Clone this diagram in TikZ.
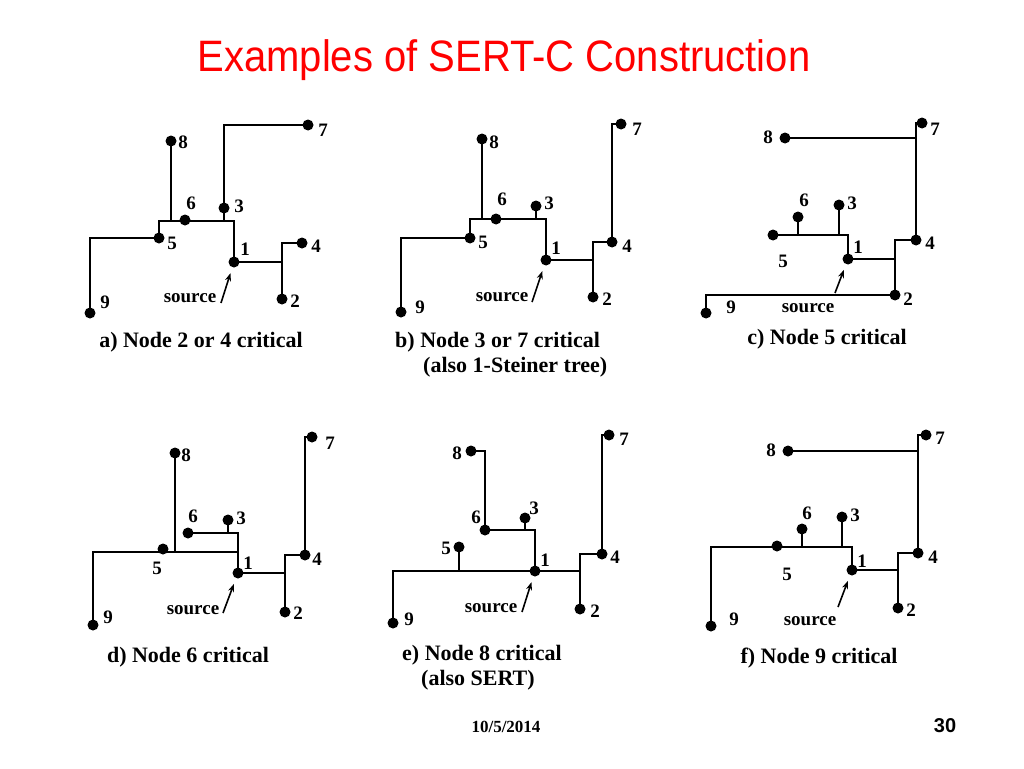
\documentclass[tikz,border=0pt]{standalone}
\usepackage{fontspec}
\usepackage{tikz}
\setmainfont{Liberation Serif}
\newfontfamily\titlefont{Liberation Sans}
\usetikzlibrary{arrows.meta}

\begin{document}
\begin{tikzpicture}[x=1pt,y=-1pt,
  dot/.style={circle,fill=black,inner sep=0pt,minimum size=11pt},
  num/.style={font=\fontsize{19}{19}\selectfont\bfseries,inner sep=0pt},
  wire/.style={line width=2.6pt,line cap=rect},
  src/.style={line width=1.6pt,-{Stealth[length=8pt,width=6pt]},shorten >=6pt},
  capt/.style={font=\fontsize{22}{25}\selectfont\bfseries,inner sep=0pt}]
\useasboundingbox[fill=white] (0,0) rectangle (1024,768);

\node[font=\titlefont\fontsize{40}{40}\selectfont,text=red,yscale=1.1] (title) at (504,60) {Examples of SERT-C Construction};

% a) node 2 or 4 critical
\node[dot] (a1) at (234,262) {};
\node[dot] (a2) at (282,299) {};
\node[dot] (a3) at (224,208) {};
\node[dot] (a4) at (302,243) {};
\node[dot] (a5) at (159,238) {};
\node[dot] (a6) at (185,220) {};
\node[dot] (a7) at (308,125) {};
\node[dot] (a8) at (171,141) {};
\node[dot] (a9) at (90,313) {};
\coordinate (a1t) at (234,221);
\coordinate (a3t) at (224,221);
\draw[wire] (a5) |- (a1t) -- (a1) -| (a2);
\draw[wire] (a4) -| (a2);
\draw[wire] (a7) -| (a3t);
\draw[wire] (a8) -- (a8 |- a1t);
\draw[wire] (a5) -| (a9);
\node[num] (a1n) at (245,249) {1};
\node[num] (a2n) at (295,301) {2};
\node[num] (a3n) at (239,206) {3};
\node[num] (a4n) at (316,246) {4};
\node[num] (a5n) at (172,243) {5};
\node[num] (a6n) at (191,203) {6};
\node[num] (a7n) at (323,130) {7};
\node[num] (a8n) at (183,142) {8};
\node[num] (a9n) at (105,302) {9};
\node[num] (asrc) at (190,298) {source};
\coordinate (atail) at (221,303);
\draw[src] (atail) -- (a1);
\node[capt] (acap) at (201,342) {a) Node 2 or 4 critical};

% b) node 3 or 7 critical
\node[dot] (b1) at (546,260) {};
\node[dot] (b2) at (593,297) {};
\node[dot] (b3) at (536,206) {};
\node[dot] (b4) at (612,242) {};
\node[dot] (b5) at (470,238) {};
\node[dot] (b6) at (496,219) {};
\node[dot] (b7) at (621,124) {};
\node[dot] (b8) at (482,139) {};
\node[dot] (b9) at (401,312) {};
\coordinate (b1t) at (546,219);
\draw[wire] (b5) |- (b1t) -- (b1) -| (b2);
\draw[wire] (b4) -| (b2);
\draw[wire] (b7) -| (b4);
\draw[wire] (b8) -- (b8 |- b1t);
\draw[wire] (b3) -- (b3 |- b1t);
\draw[wire] (b5) -| (b9);
\node[num] (b1n) at (556,248) {1};
\node[num] (b2n) at (607,299) {2};
\node[num] (b3n) at (549,203) {3};
\node[num] (b4n) at (627,246) {4};
\node[num] (b5n) at (483,242) {5};
\node[num] (b6n) at (502,199) {6};
\node[num] (b7n) at (637,129) {7};
\node[num] (b8n) at (494,142) {8};
\node[num] (b9n) at (420,307) {9};
\node[num] (bsrc) at (502,297) {source};
\coordinate (btail) at (532,302);
\draw[src] (btail) -- (b1);
\node[capt,align=left,anchor=north west] (bcap) at (395,332) {b) Node 3 or 7 critical\\\hspace*{28pt}(also 1-Steiner tree)};

% c) node 5 critical
\node[dot] (c1) at (848,259) {};
\node[dot] (c2) at (895,295) {};
\node[dot] (c3) at (839,205) {};
\node[dot] (c4) at (916,240) {};
\node[dot] (c5) at (773,235) {};
\node[dot] (c6) at (798,217) {};
\node[dot] (c7) at (922,123) {};
\node[dot] (c8) at (785,138) {};
\node[dot] (c9) at (706,313) {};
\draw[wire] (c5) -| (c1) -| (c2);
\draw[wire] (c4) -| (c2);
\draw[wire] (c7) -| (c4);
\draw[wire] (c8) -- (c8 -| c4);
\draw[wire] (c6) -- (c6 |- c5);
\draw[wire] (c3) -- (c3 |- c5);
\draw[wire] (c2) -| (c9);
\node[num] (c1n) at (858,247) {1};
\node[num] (c2n) at (908,299) {2};
\node[num] (c3n) at (852,203) {3};
\node[num] (c4n) at (930,243) {4};
\node[num] (c5n) at (783,261) {5};
\node[num] (c6n) at (804,200) {6};
\node[num] (c7n) at (935,129) {7};
\node[num] (c8n) at (768,137) {8};
\node[num] (c9n) at (731,307) {9};
\node[num] (csrc) at (808,308) {source};
\coordinate (ctail) at (835,293);
\draw[src] (ctail) -- (c1);
\node[capt] (ccap) at (827,339) {c) Node 5 critical};

% d) node 6 critical
\node[dot] (d1) at (238,573) {};
\node[dot] (d2) at (285,612) {};
\node[dot] (d3) at (228,520) {};
\node[dot] (d4) at (305,555) {};
\node[dot] (d5) at (163,549) {};
\node[dot] (d6) at (188,533) {};
\node[dot] (d7) at (312,437) {};
\node[dot] (d8) at (175,453) {};
\node[dot] (d9) at (93,625) {};
\coordinate (d1t) at (238,552);
\draw[wire] (d6) -| (d1) -| (d2);
\draw[wire] (d4) -| (d2);
\draw[wire] (d7) -| (d4);
\draw[wire] (d3) -- (d3 |- d6);
\draw[wire] (d8) -- (d8 |- d1t);
\draw[wire] (d9) |- (d1t);
\node[num] (d1n) at (248,563) {1};
\node[num] (d2n) at (298,613) {2};
\node[num] (d3n) at (241,518) {3};
\node[num] (d4n) at (317,559) {4};
\node[num] (d5n) at (157,568) {5};
\node[num] (d6n) at (193,516) {6};
\node[num] (d7n) at (330,443) {7};
\node[num] (d8n) at (186,455) {8};
\node[num] (d9n) at (108,617) {9};
\node[num] (dsrc) at (193,610) {source};
\coordinate (dtail) at (223,613);
\draw[src] (dtail) -- (d1);
\node[capt] (dcap) at (188,657) {d) Node 6 critical};

% e) node 8 critical
\node[dot] (e1) at (535,571) {};
\node[dot] (e2) at (580,609) {};
\node[dot] (e3) at (525,518) {};
\node[dot] (e4) at (602,554) {};
\node[dot] (e5) at (459,547) {};
\node[dot] (e6) at (485,530) {};
\node[dot] (e7) at (609,435) {};
\node[dot] (e8) at (471,451) {};
\node[dot] (e9) at (393,623) {};
\draw[wire] (e8) -| (e6);
\draw[wire] (e6) -| (e1) -| (e2);
\draw[wire] (e4) -| (e2);
\draw[wire] (e7) -| (e4);
\draw[wire] (e3) -- (e3 |- e6);
\draw[wire] (e5) -- (e5 |- e1);
\draw[wire] (e9) |- (e1);
\node[num] (e1n) at (545,560) {1};
\node[num] (e2n) at (595,611) {2};
\node[num] (e3n) at (534,508) {3};
\node[num] (e4n) at (615,557) {4};
\node[num] (e5n) at (446,548) {5};
\node[num] (e6n) at (476,517) {6};
\node[num] (e7n) at (624,439) {7};
\node[num] (e8n) at (457,453) {8};
\node[num] (e9n) at (409,619) {9};
\node[num] (esrc) at (491,608) {source};
\coordinate (etail) at (522,612);
\draw[src] (etail) -- (e1);
\node[capt,align=left,anchor=north west] (ecap) at (402,645) {e) Node 8 critical\\\hspace*{19pt}(also SERT)};

% f) node 9 critical
\node[dot] (f1) at (852,570) {};
\node[dot] (f2) at (898,608) {};
\node[dot] (f3) at (842,517) {};
\node[dot] (f4) at (918,553) {};
\node[dot] (f5) at (777,546) {};
\node[dot] (f6) at (802,529) {};
\node[dot] (f7) at (926,435) {};
\node[dot] (f8) at (788,451) {};
\node[dot] (f9) at (711,626) {};
\coordinate (f1t) at (852,547);
\draw[wire] (f9) |- (f1t) -- (f1) -| (f2);
\draw[wire] (f4) -| (f2);
\draw[wire] (f7) -| (f4);
\draw[wire] (f8) -- (f8 -| f4);
\draw[wire] (f6) -- (f6 |- f1t);
\draw[wire] (f3) -- (f3 |- f1t);
\node[num] (f1n) at (862,561) {1};
\node[num] (f2n) at (911,610) {2};
\node[num] (f3n) at (855,515) {3};
\node[num] (f4n) at (933,557) {4};
\node[num] (f5n) at (787,574) {5};
\node[num] (f6n) at (807,513) {6};
\node[num] (f7n) at (940,438) {7};
\node[num] (f8n) at (771,450) {8};
\node[num] (f9n) at (734,619) {9};
\node[num] (fsrc) at (810,621) {source};
\coordinate (ftail) at (838,607);
\draw[src] (ftail) -- (f1);
\node[capt] (fcap) at (819,658) {f) Node 9 critical};

\node[font=\fontsize{17}{17}\selectfont\bfseries] (date) at (506,727) {10/5/2014};
\node[font=\titlefont\fontsize{20}{20}\selectfont\bfseries] (page) at (945,726) {30};
\end{tikzpicture}
\end{document}
